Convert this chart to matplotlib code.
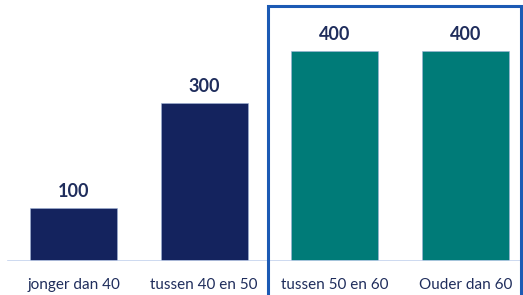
import matplotlib.pyplot as plt
from matplotlib.patches import Rectangle

# data
categorieen = ['jonger dan 40', 'tussen 40 en 50', 'tussen 50 en 60', 'Ouder dan 60']
aantallen = [100, 300, 400, 400]

kleuren = ['#14235e', '#14235e', '#007b78', '#007b78']
tekst_kleur = '#1f2d5c'

plt.rcParams['font.family'] = ['Lato', 'DejaVu Sans']

fig = plt.figure(figsize=(5.23, 2.95), dpi=100)
ax = fig.add_axes([0, 0.1153, 1, 0.7119])

posities = list(range(len(categorieen)))
bars = ax.bar(posities, aantallen, width=0.665, color=kleuren,
              edgecolor='#9fb3d6', linewidth=0.4)

ax.set_xlim(-0.5625, 3.44)
ax.set_ylim(0, 400)
ax.axis('off')

# basislijn
ax.axhline(0, xmin=8 / 523, xmax=521 / 523, color='#c5d3ee', linewidth=1.2)

for pos, waarde in zip(posities, aantallen):
    ax.annotate(f'{waarde}', (pos, waarde), xytext=(0, 6), textcoords='offset points',
                ha='center', va='bottom', fontsize=13, fontweight='bold',
                color=tekst_kleur, annotation_clip=False)
    ax.annotate(categorieen[pos], (pos, 0), xytext=(0, -17), textcoords='offset points',
                ha='center', va='center', fontsize=11, color=tekst_kleur,
                annotation_clip=False)

# kader rond de laatste twee groepen
kader = Rectangle((268 / 523, -0.1), (521 - 268) / 523, 1.1 - 6 / 295,
                  transform=fig.transFigure, fill=False, edgecolor='#1c5ab4',
                  linewidth=2.2, clip_on=False)
fig.patches.append(kader)

fig.savefig('out.png', dpi=100)
